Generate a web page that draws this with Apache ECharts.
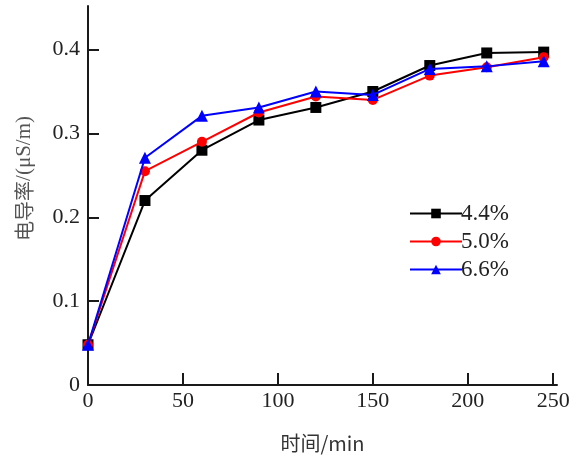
<!DOCTYPE html>
<html><head><meta charset="utf-8">
<script src="https://cdn.jsdelivr.net/npm/echarts@6/dist/echarts.min.js"></script>
<style>html,body{margin:0;padding:0;background:#fff}#c{width:576px;height:456px}</style>
</head><body><div id="c"></div>
<script>
var timeMin = [0, 30, 60, 90, 120, 150, 180, 210, 240];
var s44 = [0.048, 0.220, 0.280, 0.316, 0.331, 0.350, 0.381, 0.396, 0.397];
var s50 = [0.048, 0.255, 0.290, 0.325, 0.344, 0.340, 0.369, 0.379, 0.391];
var s66 = [0.048, 0.271, 0.321, 0.331, 0.350, 0.346, 0.377, 0.380, 0.386];
var seriesNames = ['4.4%', '5.0%', '6.6%'];
var xTickValues = [0, 50, 100, 150, 200, 245];
var xTickLabels = ['0', '50', '100', '150', '200', '250'];
var yTickValues = [0, 0.1, 0.2, 0.3, 0.4];
var yTickLabels = ['0', '0.1', '0.2', '0.3', '0.4'];

function pairs(ys){ return timeMin.map(function(t,i){ return [t, ys[i]]; }); }
var serif = '"Liberation Serif", "DejaVu Serif", serif';
var chart = echarts.init(document.getElementById('c'), null, {renderer:'canvas'});
chart.setOption({
  animation: false,
  backgroundColor: '#fff',
  grid: {left: 88, right: 19, top: 6, bottom: 71, containLabel: false, outerBoundsMode: 'none'},
  xAxis: {
    type: 'value', min: 0, max: 247,
    axisLine: {lineStyle: {color: '#1a1a1a', width: 2}},
    axisTick: {inside: true, length: 12, lineStyle: {color: '#1a1a1a', width: 2}, customValues: xTickValues},
    axisLabel: {customValues: xTickValues, color: '#222', fontFamily: serif, fontSize: 22, margin: 5,
      formatter: function(v){ var i = xTickValues.indexOf(v); return i >= 0 ? xTickLabels[i] : ''; }},
    splitLine: {show: false},
    name: '时间/min', nameLocation: 'middle', nameGap: 48,
    nameTextStyle: {color: '#333', fontSize: 20, fontFamily: '"Noto Sans CJK SC", ' + serif}
  },
  yAxis: {
    type: 'value', min: 0, max: 0.452,
    axisLine: {show: true, lineStyle: {color: '#1a1a1a', width: 2}},
    axisTick: {show: true, inside: true, length: 11, lineStyle: {color: '#1a1a1a', width: 2}, customValues: yTickValues},
    axisLabel: {customValues: yTickValues, color: '#222', fontFamily: serif, fontSize: 22, margin: 8,
      formatter: function(v){ for (var i=0;i<yTickValues.length;i++){ if (Math.abs(yTickValues[i]-v)<1e-9) return yTickLabels[i]; } return ''; }},
    splitLine: {show: false}
  },
  graphic: [{
    type: 'text', left: 14, top: 116, rotation: Math.PI/2,
    style: {
      text: '{c|电导率}{s|/(μS/m)}',
      rich: {
        c: {fontFamily: '"Noto Sans CJK SC", sans-serif', fontSize: 20, fill: '#555'},
        s: {fontFamily: serif, fontSize: 21, fill: '#555'}
      }
    }
  }],
  legend: {
    orient: 'vertical', left: 404, top: 197, itemGap: 5, itemWidth: 52, itemHeight: 12,
    textStyle: {fontFamily: serif, fontSize: 23, color: '#222', padding: [0,0,0,-6]},
    data: seriesNames
  },
  series: [
    {name: seriesNames[0], type: 'line', data: pairs(s44), symbol: 'rect', symbolSize: 11,
     itemStyle: {color: '#000'}, lineStyle: {color: '#000', width: 2}, z: 3},
    {name: seriesNames[1], type: 'line', data: pairs(s50), symbol: 'circle', symbolSize: 10,
     itemStyle: {color: '#ff0000'}, lineStyle: {color: '#ff0000', width: 2}, z: 4},
    {name: seriesNames[2], type: 'line', data: pairs(s66), symbol: 'triangle', symbolSize: 12,
     itemStyle: {color: '#0000ff'}, lineStyle: {color: '#0000ff', width: 2}, z: 5}
  ]
});
</script></body></html>
